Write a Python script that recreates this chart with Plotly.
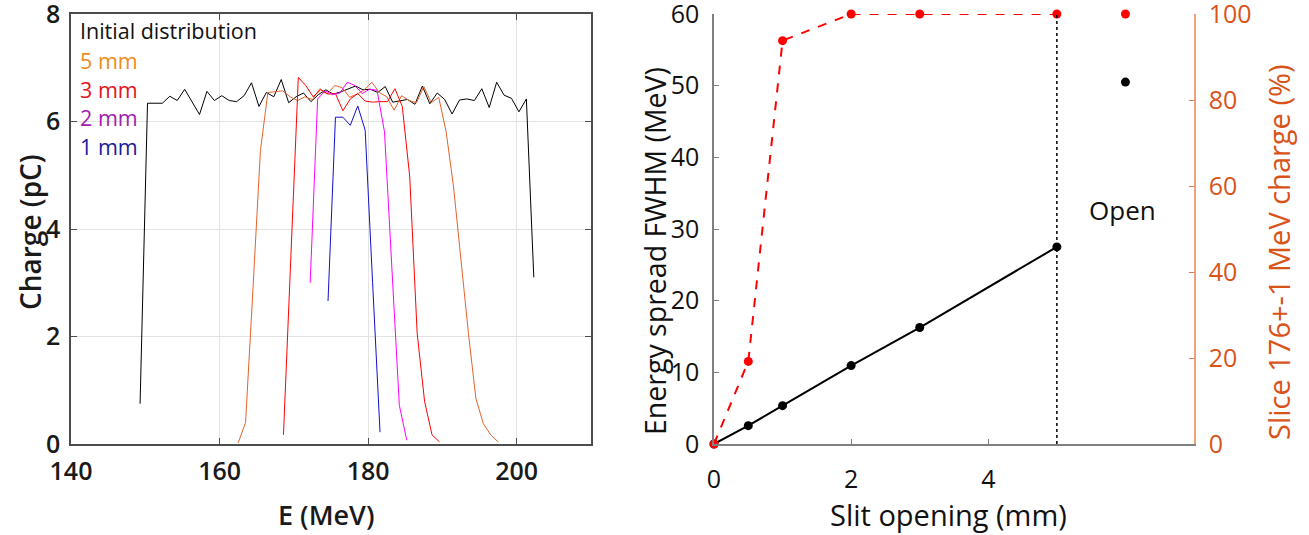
import plotly.graph_objects as go

# ---------------- Left panel: charge vs energy ----------------
E_init = [149.3, 150.3, 151.3, 152.3, 153.3, 154.3, 155.3, 156.3, 157.3, 158.3,
          159.3, 160.3, 161.3, 162.3, 163.3, 164.3, 165.3, 166.3, 167.3, 168.3,
          169.3, 170.3, 171.3, 172.3, 173.3, 174.3, 175.3, 176.3, 177.3, 178.3,
          179.3, 180.3, 181.3, 182.3, 183.3, 184.3, 185.3, 186.3, 187.3, 188.3,
          189.3, 190.3, 191.3, 192.3, 193.3, 194.3, 195.3, 196.3, 197.3, 198.3,
          199.3, 200.3, 201.3, 202.3]
Q_init = [0.75, 6.34, 6.34, 6.34, 6.47, 6.39, 6.60, 6.37, 6.13, 6.56,
          6.39, 6.48, 6.39, 6.37, 6.48, 6.72, 6.28, 6.54, 6.46, 6.78,
          6.35, 6.46, 6.53, 6.37, 6.50, 6.59, 6.51, 6.55, 6.60, 6.66,
          6.59, 6.60, 6.54, 6.65, 6.36, 6.39, 6.41, 6.32, 6.66, 6.33,
          6.53, 6.41, 6.14, 6.40, 6.42, 6.39, 6.61, 6.26, 6.73, 6.49,
          6.43, 6.18, 6.42, 3.10]

E_5mm = [162.5, 163.5, 164.5, 165.5, 166.5, 167.5, 168.5, 169.5, 170.5, 171.5,
         172.5, 173.5, 174.5, 175.5, 176.5, 177.5, 178.5, 179.5, 180.5, 181.5,
         182.5, 183.5, 184.5, 185.5, 186.5, 187.5, 188.5, 189.5, 190.5, 191.5,
         192.5, 193.5, 194.5, 195.5, 196.5, 197.5]
Q_5mm = [0.02, 0.40, 2.90, 5.46, 6.54, 6.55, 6.57, 6.46, 6.39, 6.46,
         6.41, 6.61, 6.51, 6.67, 6.63, 6.45, 6.51, 6.59, 6.73, 6.54,
         6.46, 6.21, 6.48, 6.39, 6.35, 6.65, 6.35, 6.45, 5.81, 4.78,
         3.42, 2.06, 0.85, 0.38, 0.17, 0.04]

E_3mm = [168.6, 169.6, 170.6, 171.6, 172.6, 173.6, 174.6, 175.6, 176.6, 177.6,
         178.6, 179.6, 180.6, 181.6, 182.6, 183.6, 184.6, 185.6, 186.6, 187.6,
         188.6, 189.6]
Q_3mm = [0.17, 3.50, 6.82, 6.67, 6.46, 6.59, 6.51, 6.52, 6.20, 6.42,
         6.52, 6.38, 6.36, 6.37, 6.37, 6.61, 6.28, 4.97, 2.06, 0.79,
         0.17, 0.04]

E_2mm = [172.2, 173.2, 174.2, 175.2, 176.2, 177.2, 178.2, 179.2, 180.2, 181.2,
         182.2, 183.2, 184.2, 185.2]
Q_2mm = [3.00, 6.42, 6.57, 6.50, 6.53, 6.73, 6.67, 6.52, 6.60, 6.58,
         5.81, 3.27, 0.72, 0.07]

E_1mm = [174.6, 175.6, 176.6, 177.6, 178.6, 179.6, 180.6, 181.6]
Q_1mm = [2.66, 6.08, 6.08, 5.93, 6.29, 5.84, 3.00, 0.22]

left_xticks = [140, 160, 180, 200]
left_yticks = [0, 2, 4, 6, 8]

legend_labels = ["Initial distribution", "5 mm", "3 mm", "2 mm", "1 mm"]
legend_colors = ["#111111", "#F08A1C", "#E2141E", "#A21CAF", "#1A1A9C"]

# ---------------- Right panel: slit scan ----------------
slit_mm = [0, 0.5, 1, 2, 3, 5]
fwhm_MeV = [0, 2.56, 5.35, 10.94, 16.25, 27.5]
slice_pct = [0, 19.2, 93.8, 100, 100, 100]
open_x = 6
open_fwhm = 50.5
open_pct = 100
right_xticks = [0, 2, 4]

FONT = "Open Sans"
ORANGE = "#D95319"
W, H = 1309, 535


def px(x):
    return x / W


def py(y):
    return (H - y) / H


fig = go.Figure()

line_specs = [
    (E_init, Q_init, "#000000"),
    (E_5mm, Q_5mm, "#E5622B"),
    (E_3mm, Q_3mm, "#FF0000"),
    (E_2mm, Q_2mm, "#FF00FF"),
    (E_1mm, Q_1mm, "#1010D0"),
]
for xs, ys, col in line_specs:
    fig.add_trace(go.Scatter(x=xs, y=ys, mode="lines", line=dict(color=col, width=1),
                             xaxis="x", yaxis="y", showlegend=False, hoverinfo="skip"))

fig.add_trace(go.Scatter(x=slit_mm, y=fwhm_MeV, mode="lines+markers",
                         line=dict(color="black", width=2),
                         marker=dict(color="black", size=9),
                         xaxis="x2", yaxis="y2", showlegend=False, cliponaxis=False))
fig.add_trace(go.Scatter(x=[open_x], y=[open_fwhm], mode="markers",
                         marker=dict(color="black", size=9),
                         xaxis="x2", yaxis="y2", showlegend=False, cliponaxis=False))
fig.add_trace(go.Scatter(x=slit_mm, y=slice_pct, mode="lines+markers",
                         line=dict(color="#FF0000", width=2, dash="dash"),
                         marker=dict(color="#FF0000", size=9),
                         xaxis="x2", yaxis="y3", showlegend=False, cliponaxis=False))
fig.add_trace(go.Scatter(x=[open_x], y=[open_pct], mode="markers",
                         marker=dict(color="#FF0000", size=9),
                         xaxis="x2", yaxis="y3", showlegend=False, cliponaxis=False))

fig.add_shape(type="line", xref="x2", yref="y2 domain", x0=slit_mm[-1], x1=slit_mm[-1],
              y0=0, y1=1, line=dict(color="black", width=1.5, dash="dot"))

YDOM = [py(444), py(14)]
left_axis_col = "#4D4D4D"
right_axis_col = "#808080"
common = dict(automargin=False, ticklabeloverflow="allow", zeroline=False)

fig.update_layout(
    width=W, height=H,
    margin=dict(l=0, r=0, t=0, b=0, pad=0),
    paper_bgcolor="white", plot_bgcolor="white",
    font=dict(family=FONT, color="#111111"),
    xaxis=dict(domain=[px(71), px(591)], range=[140, 210], tickvals=left_xticks,
               anchor="y", showline=True, linecolor=left_axis_col, linewidth=1.5, mirror="ticks",
               ticks="inside", ticklen=6, tickcolor=left_axis_col, tickwidth=1,
               showgrid=True, gridcolor="#E3E3E3", gridwidth=1,
               tickfont=dict(family=FONT, size=25, weight=600, color="#1A1A1A"),
               ticklabelstandoff=4, **common),
    yaxis=dict(domain=YDOM, range=[0, 8], tickvals=left_yticks, anchor="x",
               showline=True, linecolor=left_axis_col, linewidth=1.5, mirror="ticks",
               ticks="inside", ticklen=6, tickcolor=left_axis_col, tickwidth=1,
               showgrid=True, gridcolor="#E3E3E3", gridwidth=1,
               tickfont=dict(family=FONT, size=25, weight=600, color="#1A1A1A"),
               ticklabelstandoff=4, **common),
    xaxis2=dict(domain=[px(714), px(1194)], range=[0, 7], tickvals=right_xticks, anchor="y2",
                showline=True, linecolor=right_axis_col, linewidth=1.5,
                ticks="inside", ticklen=5, tickcolor=right_axis_col,
                showgrid=False,
                tickfont=dict(family=FONT, size=25, color="#111111"),
                ticklabelstandoff=12, **common),
    yaxis2=dict(domain=YDOM, range=[0, 60], dtick=10, anchor="x2",
                showline=True, linecolor=right_axis_col, linewidth=1.5,
                ticks="inside", ticklen=5, tickcolor=right_axis_col,
                showgrid=False,
                tickfont=dict(family=FONT, size=25, color="#111111"),
                ticklabelstandoff=8, **common),
    yaxis3=dict(overlaying="y2", side="right", anchor="x2", range=[0, 100], dtick=20,
                showline=True, linecolor="#ECA17F", linewidth=1.5,
                ticks="inside", ticklen=5, tickcolor="#E07A4E",
                showgrid=False,
                tickfont=dict(family=FONT, size=25, color=ORANGE),
                ticklabelstandoff=8, **common),
)

annotations = []
# legend-like labels
leg_y = [30, 60, 89, 118, 146]
for txt, col, yp in zip(legend_labels, legend_colors, leg_y):
    annotations.append(dict(text=txt, xref="paper", yref="paper", x=px(78),
                            y=py(yp), xanchor="left", yanchor="middle",
                            showarrow=False, font=dict(family=FONT, size=21.5, color=col)))
# axis titles
annotations += [
    dict(text="Charge (pC)", xref="paper", yref="paper", x=px(30), y=py(232),
         textangle=-90, showarrow=False, xanchor="center", yanchor="middle",
         font=dict(family=FONT, size=28, weight=600, color="#1A1A1A")),
    dict(text="E (MeV)", xref="paper", yref="paper", x=px(326), y=py(514),
         showarrow=False, xanchor="center", yanchor="middle",
         font=dict(family=FONT, size=27, weight=600, color="#1A1A1A")),
    dict(text="Energy spread FWHM (MeV)", xref="paper", yref="paper", x=px(655),
         y=py(251), textangle=-90, showarrow=False, xanchor="center", yanchor="middle",
         font=dict(family=FONT, size=28.5, color="#111111")),
    dict(text="Slit opening (mm)", xref="paper", yref="paper", x=px(948), y=py(514),
         showarrow=False, xanchor="center", yanchor="middle",
         font=dict(family=FONT, size=29, color="#111111")),
    dict(text="Slice 176+-1 MeV charge (%)", xref="paper", yref="paper", x=px(1278),
         y=py(252), textangle=-90, showarrow=False, xanchor="center", yanchor="middle",
         font=dict(family=FONT, size=29, color=ORANGE)),
    dict(text="Open", xref="x2", yref="y2", x=5.95, y=32.6, showarrow=False,
         xanchor="center", yanchor="middle", font=dict(family=FONT, size=26, color="#111111")),
]
fig.update_layout(annotations=annotations)

# remove the default 8px page margin so the figure fills the window exactly
fig.write_html("out.html", config={"displayModeBar": False},
               post_script="document.body.style.margin='0px';document.body.style.overflow='hidden';")
